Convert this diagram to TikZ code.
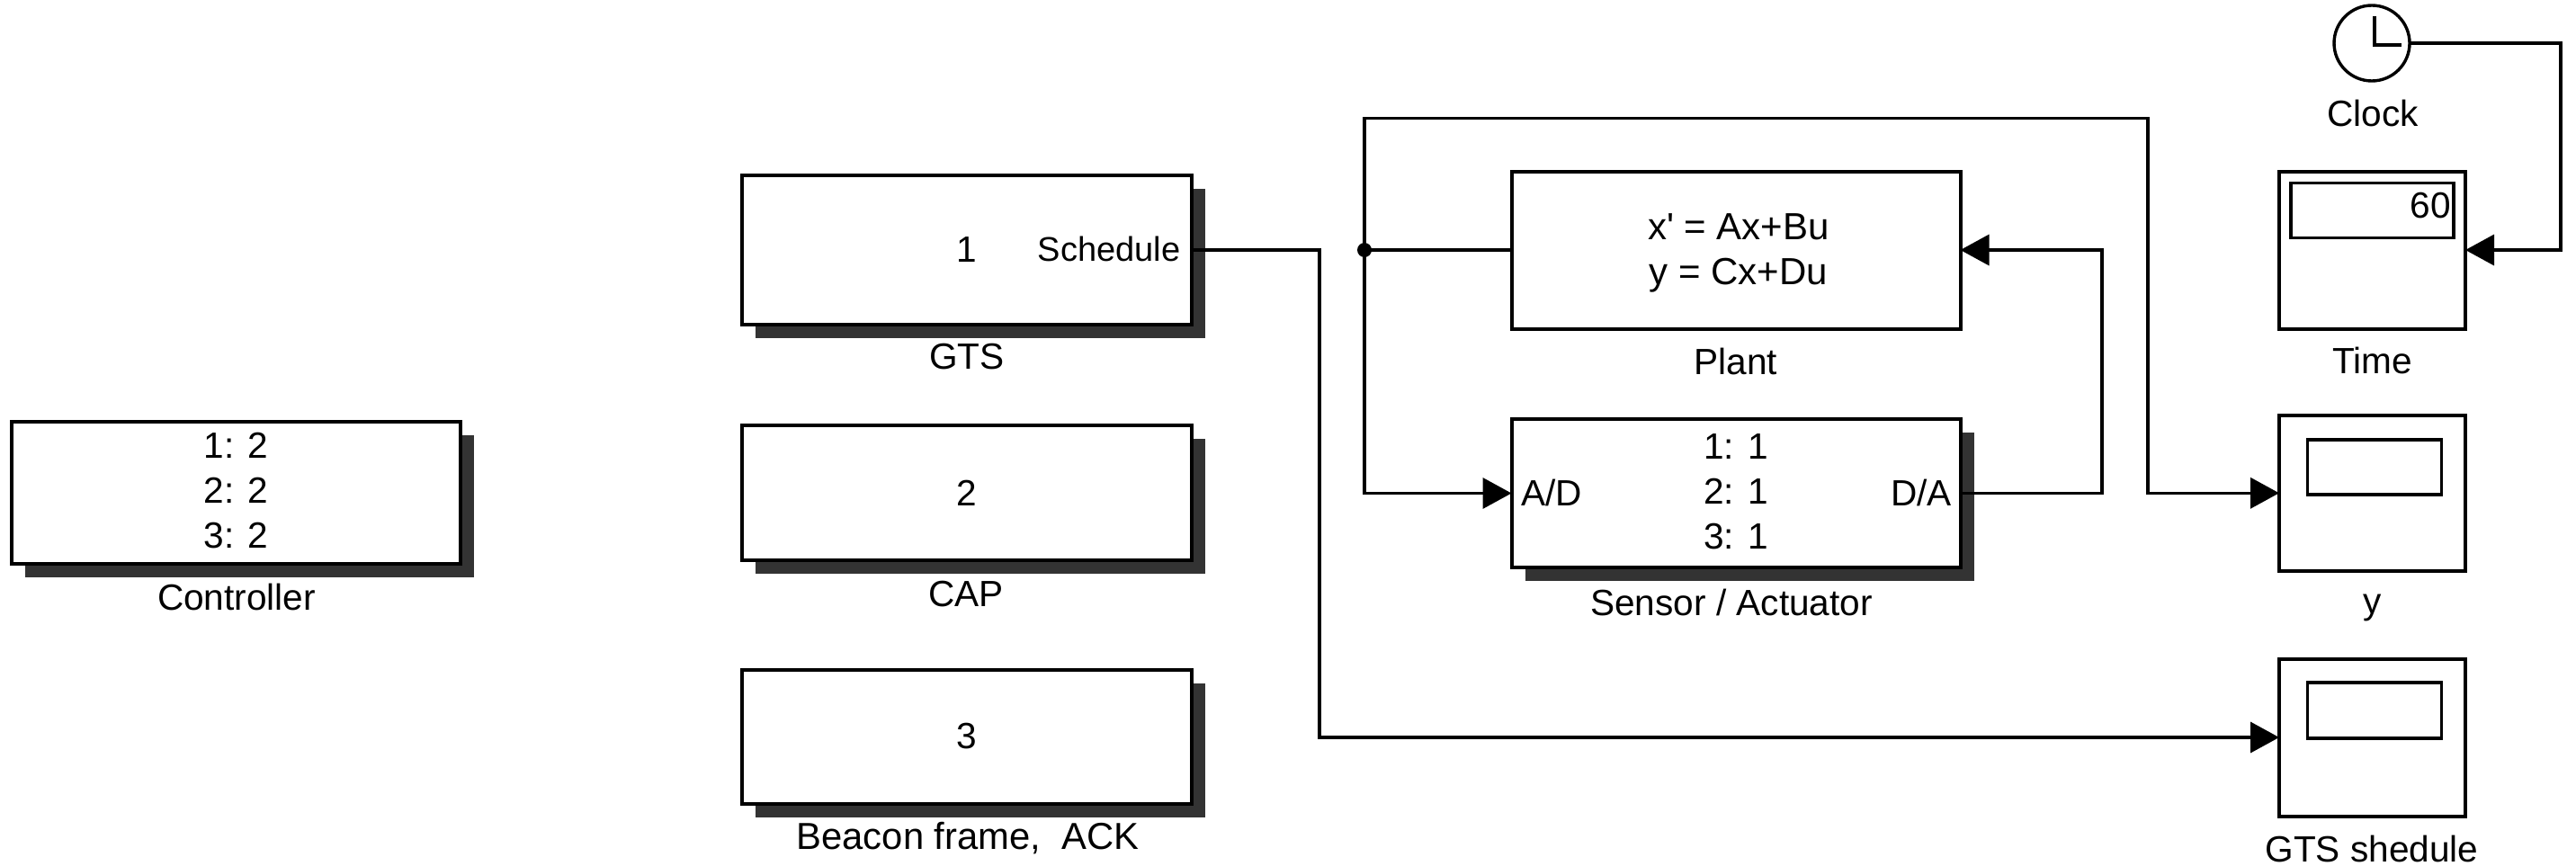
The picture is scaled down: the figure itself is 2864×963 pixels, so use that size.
\documentclass[tikz,border=0pt]{standalone}
\usepackage{fontspec}
\setmainfont{Liberation Sans}[Ligatures=TeXOff]
\usetikzlibrary{arrows.meta,shadows,calc}
\tikzset{
  x=0.5pt,y=-0.5pt,
  every node/.style={font=\fontsize{20.3}{25}\selectfont,inner sep=0pt,outer sep=0pt},
  block/.style={draw=black,fill=white,line width=2pt,align=center},
  shadowblock/.style={block,drop shadow={shadow xshift=7.5pt,shadow yshift=-7.5pt,fill=black!80,opacity=1}},
  screen/.style={draw=black,fill=white,line width=1.8pt},
  wire/.style={draw=black,line width=1.8pt},
  arrowwire/.style={wire,-{Triangle[length=16pt,width=17pt]}},
  lbl/.style={align=center}
}
\begin{document}
\begin{tikzpicture}
\useasboundingbox (0,0) rectangle (2864,963);
% blocks with shadow
\node[shadowblock,minimum width=249.5pt,minimum height=79.25pt] (ctrl) at (262.5,548) {};
\node[shadowblock,minimum width=250pt,minimum height=83.25pt] (gts) at (1075,278) {1};
\node[shadowblock,minimum width=250pt,minimum height=74.75pt] (cap) at (1075,548) {2};
\node[shadowblock,minimum width=250pt,minimum height=74.5pt] (bcn) at (1075,819) {3};
\node[shadowblock,minimum width=249.5pt,minimum height=82.75pt] (sens) at (1930,548.5) {};
% plain blocks
\node[block,minimum width=249.5pt,minimum height=87.5pt] (plant) at (1930,278) {};
\node[block,minimum width=103.5pt,minimum height=87.5pt] (time) at (2637.5,278) {};
\node[block,minimum width=103.5pt,minimum height=86.75pt] (yscope) at (2637.5,548.3) {};
\node[block,minimum width=103.5pt,minimum height=87.5pt] (gscope) at (2637.5,820) {};
\node[screen,minimum width=90.5pt,minimum height=30.5pt] (disp) at (2637.6,234) {};
\node[screen,minimum width=74.5pt,minimum height=30.75pt] (yscr) at (2640,519.5) {};
\node[screen,minimum width=74.5pt,minimum height=31.25pt] (gscr) at (2640,790) {};
\node[anchor=east] (val) at (2725,229) {60};
% block texts
\node[lbl] (tctrl) at (262.5,546) {1: 2\\2: 2\\3: 2};
\node[lbl] (tsens) at (1930,546.5) {1: 1\\2: 1\\3: 1};
\node[lbl,font=\fontsize{21}{25}\selectfont] (tplant) at (1933,281) {x' = Ax+Bu\\y = Cx+Du};
% clock
\node[draw=black,fill=white,circle,line width=1.7pt,minimum size=42pt] (clock) at (2637,48) {};
\coordinate (handtop) at ($(clock.center)+(3,-30)$);
\coordinate (handmid) at ($(clock.center)+(3,2)$);
\coordinate (handend) at ($(clock.center)+(33,2)$);
\draw[wire] (handtop) -- (handmid) -- (handend);
% port labels
\node[font=\fontsize{19}{25}\selectfont] (sched) at (1233,277) {Schedule};
\node (ad) at (1725,548) {A/D};
\node (da) at (2136,548) {D/A};
% captions
\node[lbl] (lctrl) at (263,664) {Controller};
\node[lbl] (lgts) at (1075,397) {GTS};
\node[lbl] (lcap) at (1074,660.5) {CAP};
\node[lbl,font=\fontsize{20.9}{25}\selectfont] (lbcn) at (1076,932) {Beacon frame,\ \ ACK};
\node[lbl] (lplant) at (1930,402) {Plant};
\node[lbl] (lsens) at (1925,669.5) {Sensor / Actuator};
\node[lbl] (lclock) at (2638,126) {Clock};
\node[lbl] (ltime) at (2638,401) {Time};
\node[lbl] (ly) at (2638,676) {y};
\node[lbl] (lg) at (2637,944) {GTS shedule};
% connectors
\coordinate (jn) at (1517,278);
\coordinate (c1) at (1467,278);
\coordinate (c2) at (1467,820);
\coordinate (t1) at (1517,131.5);
\coordinate (t2) at (2388,131.5);
\coordinate (t3) at (2388,548.3);
\coordinate (s1) at (1517,548.5);
\coordinate (d1) at (2337,548.5);
\coordinate (d2) at (2337,278);
\coordinate (k1) at (2847,48);
\coordinate (k2) at (2847,278);
\draw[arrowwire] (gts.east) -- (c1) -- (c2) -- (gscope.west);
\draw[wire] (plant.west) -- (jn);
\fill (jn) circle (8);
\draw[arrowwire] (jn) -- (t1) -- (t2) -- (t3) -- (yscope.west);
\draw[arrowwire] (jn) -- (s1) -- (sens.west);
\draw[arrowwire] (sens.east) -- (d1) -- (d2) -- (plant.east);
\draw[arrowwire] (clock.east) -- (k1) -- (k2) -- (time.east);
\end{tikzpicture}
\end{document}
